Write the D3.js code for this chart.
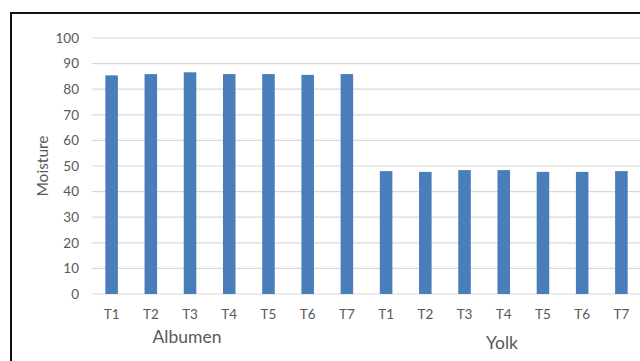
<!DOCTYPE html>
<html><head><meta charset="utf-8">
<script src="https://cdn.jsdelivr.net/npm/d3@7"></script>
<style>body{margin:0;background:#fff;}svg{display:block;}</style>
</head><body>
<svg id="c" width="640" height="361"></svg>
<script>
const groups = ["Albumen", "Yolk"];
const treatments = ["T1","T2","T3","T4","T5","T6","T7"];
const albumen = [85.4, 85.9, 86.6, 85.9, 85.9, 85.6, 85.9];
const yolk = [48.0, 47.7, 48.4, 48.4, 47.7, 47.7, 48.0];
const yTicks = [0,10,20,30,40,50,60,70,80,90,100];
const yTitle = "Moisture";

const rows = [];
groups.forEach((g, gi) => {
  const vals = gi === 0 ? albumen : yolk;
  treatments.forEach((t, i) => rows.push({key: g + "-" + t, group: g, t, v: vals[i]}));
});

const svg = d3.select("#c");
const font = "Lato, 'Open Sans', sans-serif";
const x = d3.scaleBand().domain(rows.map(d => d.key)).range([92, 641]).paddingInner(0.68).paddingOuter(0.34);
const y = d3.scaleLinear().domain([0, 100]).range([294, 38]);

// frame
svg.append("path").attr("d", "M11,361 V13 H640").attr("fill", "none").attr("stroke", "#111").attr("stroke-width", 2);

// grid
svg.append("g").selectAll("line").data(yTicks).join("line")
  .attr("x1", 92).attr("x2", 640).attr("y1", d => y(d)).attr("y2", d => y(d))
  .attr("stroke", "#d9d9d9").attr("stroke-width", 1.2);

// y labels
svg.append("g").selectAll("text").data(yTicks).join("text")
  .attr("x", 79).attr("y", d => y(d)).attr("dy", "0.35em").attr("text-anchor", "end")
  .attr("font-family", font).attr("font-size", 13.5).attr("fill", "#595959").text(d => d);

// bars
svg.append("g").selectAll("rect").data(rows).join("rect")
  .attr("x", d => x(d.key)).attr("width", x.bandwidth())
  .attr("y", d => y(d.v)).attr("height", d => y(0) - y(d.v))
  .attr("fill", "#4a7ebb");

// x tick labels
svg.append("g").selectAll("text").data(rows).join("text")
  .attr("x", d => x(d.key) + x.bandwidth() / 2).attr("y", 319).attr("text-anchor", "middle")
  .attr("font-family", font).attr("font-size", 13.5).attr("fill", "#595959").text(d => d.t);

// group labels
const gpos = [{x: 187, y: 343}, {x: 502, y: 349}];
svg.append("g").selectAll("text").data(groups).join("text")
  .attr("x", (d, i) => gpos[i].x).attr("y", (d, i) => gpos[i].y).attr("text-anchor", "middle")
  .attr("font-family", font).attr("font-size", 17.5).attr("fill", "#595959").text(d => d);

// y title
svg.append("text").attr("transform", "translate(48,166) rotate(-90)").attr("text-anchor", "middle")
  .attr("font-family", font).attr("font-size", 15.5).attr("fill", "#595959").text(yTitle);
</script>
</body></html>
